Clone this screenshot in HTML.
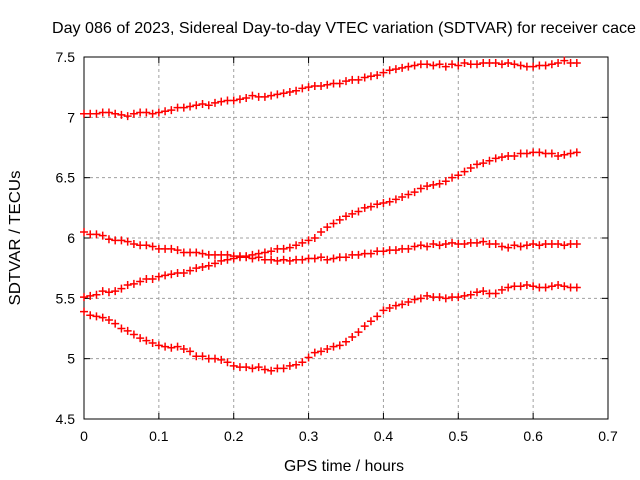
<!DOCTYPE html>
<html><head><meta charset="utf-8"><style>
body{margin:0;background:#fff}
svg{display:block;font-family:"Liberation Sans",sans-serif}
</style></head><body>
<svg id="chart" width="640" height="480">
<text x="344" y="33" text-anchor="middle" font-size="16" textLength="584" lengthAdjust="spacingAndGlyphs">Day 086 of 2023, Sidereal Day-to-day VTEC variation (SDTVAR) for receiver cace</text>
<text x="344" y="471" text-anchor="middle" font-size="16" textLength="120" lengthAdjust="spacingAndGlyphs">GPS time / hours</text>
<text transform="translate(20,238) rotate(-90)" text-anchor="middle" font-size="16" textLength="135" lengthAdjust="spacingAndGlyphs">SDTVAR / TECUs</text>
<g id="grid"></g><g id="axes"></g><g id="marks"></g>
</svg>
<script>
const xTicks=[0,0.1,0.2,0.3,0.4,0.5,0.6,0.7];
const yTicks=[4.5,5,5.5,6,6.5,7,7.5];
const xTickLabels=["0","0.1","0.2","0.3","0.4","0.5","0.6","0.7"];
const yTickLabels=["4.5","5","5.5","6","6.5","7","7.5"];
const timeStep=1/120;
const seriesA=[7.03,7.03,7.03,7.04,7.04,7.03,7.02,7.01,7.03,7.04,7.04,7.03,7.04,7.05,7.06,7.08,7.08,7.09,7.10,7.11,7.10,7.12,7.13,7.14,7.14,7.15,7.16,7.18,7.17,7.17,7.18,7.19,7.20,7.21,7.22,7.24,7.25,7.26,7.26,7.27,7.28,7.28,7.30,7.31,7.31,7.33,7.34,7.35,7.37,7.39,7.40,7.41,7.42,7.43,7.44,7.44,7.43,7.44,7.42,7.44,7.43,7.45,7.44,7.44,7.45,7.45,7.45,7.44,7.45,7.44,7.43,7.42,7.42,7.43,7.43,7.44,7.45,7.47,7.45,7.45];
const seriesB=[6.05,6.03,6.03,6.02,5.99,5.98,5.98,5.97,5.95,5.94,5.94,5.93,5.91,5.91,5.91,5.90,5.88,5.88,5.88,5.87,5.86,5.86,5.86,5.86,5.85,5.85,5.84,5.83,5.84,5.82,5.82,5.81,5.82,5.81,5.82,5.82,5.83,5.83,5.84,5.82,5.83,5.84,5.84,5.86,5.86,5.87,5.87,5.89,5.89,5.90,5.90,5.91,5.91,5.93,5.94,5.93,5.95,5.94,5.95,5.96,5.95,5.95,5.96,5.96,5.97,5.95,5.95,5.93,5.92,5.94,5.93,5.94,5.95,5.94,5.95,5.95,5.95,5.94,5.95,5.95];
const seriesC=[5.51,5.52,5.53,5.56,5.55,5.56,5.58,5.61,5.62,5.64,5.66,5.66,5.68,5.69,5.70,5.71,5.71,5.73,5.75,5.76,5.77,5.79,5.81,5.82,5.83,5.84,5.85,5.86,5.87,5.88,5.89,5.91,5.91,5.92,5.94,5.96,5.98,6.00,6.05,6.09,6.12,6.15,6.18,6.20,6.22,6.25,6.26,6.28,6.29,6.30,6.32,6.34,6.36,6.38,6.41,6.43,6.44,6.45,6.47,6.50,6.52,6.55,6.58,6.61,6.62,6.64,6.66,6.67,6.68,6.68,6.70,6.70,6.71,6.71,6.70,6.70,6.68,6.69,6.70,6.71];
const seriesD=[5.39,5.36,5.35,5.34,5.32,5.29,5.25,5.23,5.20,5.17,5.15,5.13,5.11,5.10,5.09,5.10,5.08,5.06,5.02,5.02,5.00,5.00,4.99,4.97,4.94,4.93,4.93,4.92,4.93,4.91,4.90,4.92,4.92,4.94,4.95,4.97,5.01,5.05,5.06,5.08,5.10,5.11,5.14,5.18,5.22,5.27,5.31,5.35,5.40,5.42,5.44,5.45,5.47,5.49,5.50,5.52,5.51,5.51,5.50,5.51,5.51,5.52,5.53,5.55,5.56,5.54,5.54,5.57,5.59,5.60,5.60,5.61,5.60,5.59,5.59,5.60,5.61,5.60,5.59,5.59];

const L=84,R=608,T=57,B=419;
const xs=v=>L+(v-0)/(0.7-0)*(R-L);
const ys=v=>B-(v-4.5)/(7.5-4.5)*(B-T);
const NS="http://www.w3.org/2000/svg";
function mk(tag,attrs,parent){const e=document.createElementNS(NS,tag);for(const k in attrs)e.setAttribute(k,attrs[k]);parent.appendChild(e);return e;}
const grid=document.getElementById('grid'),axes=document.getElementById('axes'),marks=document.getElementById('marks');
xTicks.forEach((t,i)=>{
  const x=xs(t);
  if(i>0&&i<xTicks.length-1){const g=mk('line',{x1:x,x2:x,y1:T,y2:B,stroke:'#a0a0a0','stroke-dasharray':'3,3'},grid);
  
  }
  mk('line',{x1:x,x2:x,y1:B,y2:B-6,stroke:'#000'},axes);
  mk('line',{x1:x,x2:x,y1:T,y2:T+6,stroke:'#000'},axes);
  const tx=mk('text',{x:x,y:B+22,'text-anchor':'middle','font-size':'14'},axes);tx.textContent=xTickLabels[i];
  
  
});
yTicks.forEach((t,i)=>{
  const y=ys(t);
  if(i>0&&i<yTicks.length-1){const g=mk('line',{x1:L,x2:R,y1:y,y2:y,stroke:'#a0a0a0','stroke-dasharray':'3,3'},grid);
  
  }
  mk('line',{x1:L,x2:L+6,y1:y,y2:y,stroke:'#000'},axes);
  mk('line',{x1:R,x2:R-6,y1:y,y2:y,stroke:'#000'},axes);
  const tx=mk('text',{x:L-9,y:y+5,'text-anchor':'end','font-size':'14'},axes);tx.textContent=yTickLabels[i];
  
  
});
const frame=mk('rect',{x:L,y:T,width:R-L,height:B-T,fill:'none',stroke:'#000','stroke-width':1},axes);


const names=['series-a','series-b','series-c','series-d'];
[seriesA,seriesB,seriesC,seriesD].forEach((s,si)=>{
  const g=mk('g',{},marks);
  
  
  s.forEach((v,i)=>{
    const x=xs(i*timeStep),y=ys(v);
    const p=mk('path',{d:`M${x-4},${y}H${x+4}M${x},${y-4}V${y+4}`,stroke:'#f00','stroke-width':1.5,fill:'none'},g);
    
    
  });
});
</script>
</body></html>
